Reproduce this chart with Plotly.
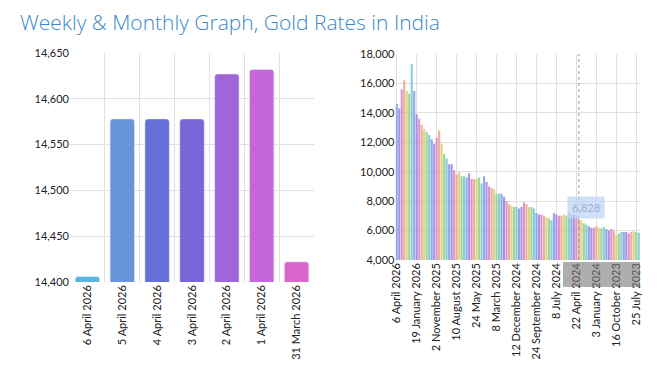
import plotly.graph_objects as go

# ---- Daily chart (left) ----
daily_dates = ["6 April 2026", "5 April 2026", "4 April 2026", "3 April 2026",
               "2 April 2026", "1 April 2026", "31 March 2026"]
daily_rates = [14406, 14578, 14578, 14578, 14627, 14632, 14422]
daily_colors = ["#5ab4df", "#6894da", "#6470da", "#7866d9", "#a066d9", "#c566d9", "#d966cc"]

# ---- Long history (right), newest first ----
history_rates = [
    14600, 14300, 15600, 16200, 15500, 15300, 17300, 15500, 13900, 13600,
    13200, 12900, 12700, 12500, 12200, 11900, 12300, 12800, 11900, 11200,
    10900, 10500, 10500, 10100, 9800, 10000, 9700, 9700, 9600, 9900,
    9500, 9500, 9500, 9600, 9200, 9700, 9300, 9000, 8900, 8800,
    8500, 8500, 8500, 8300, 8000, 7800, 7700, 7600, 7600, 7500,
    7600, 7900, 7800, 7600, 7600, 7500, 7200, 7100, 7100, 7000,
    6900, 6800, 6700, 7200, 7100, 7000, 7000, 7100, 7000, 7300,
    7100, 7100, 7000, 6828, 6700, 6500, 6400, 6300, 6200, 6200,
    6300, 6200, 6150, 6250, 6100, 6000, 6100, 6000, 5700, 5800,
    5900, 5900, 5900, 5800, 5900, 5950, 5900, 5850,
]
history_ticks = ["6 April 2026", "19 January 2026", "2 November 2025", "10 August 2025",
                 "24 May 2025", "8 March 2025", "12 December 2024", "24 September 2024",
                 "8 July 2024", "22 April 2024", "3 January 2024", "16 October 2023",
                 "25 July 2023"]
history_palette = ["#7fa2e6", "#a585de", "#d98acb", "#e8a98a", "#d8cf7c", "#92d18c", "#7fc6cf"]

idx = list(range(len(history_rates)))
hist_colors = [history_palette[i % len(history_palette)] for i in idx]
tick_step = 8
tick_positions = [i * tick_step for i in range(len(history_ticks))]
hover_index = 73

# page body has an 8px default margin; work in page pixels and convert
OFF = 8
W, H = 652, 365


def px(x):
    return (x - OFF) / W


def py(y):
    return 1 - (y - OFF) / H


FONT = "Lato"
TICKFONT = dict(family=FONT, size=11, color="#222")

fig = go.Figure()
fig.add_trace(go.Bar(x=daily_dates, y=daily_rates, marker=dict(color=daily_colors, cornerradius=3),
                     width=0.7, xaxis="x", yaxis="y", showlegend=False))
fig.add_trace(go.Bar(x=idx, y=history_rates, marker=dict(color=hist_colors, opacity=0.9, line_width=0),
                     width=0.85, xaxis="x2", yaxis="y2", showlegend=False))

grid = "#e0e0e0"
fig.update_layout(
    width=W, height=H,
    margin=dict(l=0, r=0, t=0, b=0),
    paper_bgcolor="white", plot_bgcolor="white",
    font=dict(family=FONT, size=11, color="#333"),
    title=dict(text="Weekly & Monthly Graph, Gold Rates in India", xref="paper", yref="paper",
               x=px(20), y=py(23), xanchor="left", yanchor="middle", pad=dict(t=0, b=0, l=0, r=0),
               font=dict(family="Open Sans", size=21, color="#3a88c8", weight=300)),
    xaxis=dict(domain=[px(70), px(314)], type="category", tickson="boundaries", anchor="y",
               showgrid=True, gridcolor=grid, tickangle=-90, ticks="", showline=False,
               zeroline=False, tickfont=TICKFONT, automargin=False),
    yaxis=dict(domain=[py(282), py(53)], range=[14400, 14650], dtick=50, anchor="x",
               tickformat=",", showgrid=True, gridcolor=grid, zeroline=False,
               tickfont=TICKFONT, automargin=False),
    xaxis2=dict(domain=[px(395.5), px(640)], range=[-0.5, len(history_rates) - 0.5], anchor="y2",
                tickvals=tick_positions, ticktext=history_ticks, tickangle=-90,
                showgrid=True, gridcolor=grid, zeroline=False, ticks="",
                tickfont=TICKFONT, automargin=False),
    yaxis2=dict(domain=[py(260), py(54)], range=[4000, 18000], dtick=2000,
                tickformat=",", showgrid=True, gridcolor=grid, zeroline=False,
                anchor="x2", tickfont=TICKFONT, automargin=False),
    annotations=[
        dict(text="6,828", xref="paper", yref="paper", x=px(586), y=py(207),
             xanchor="center", yanchor="middle", showarrow=False,
             bgcolor="rgba(190,215,245,0.75)", borderpad=4,
             font=dict(size=11, color="#9ab0cc")),
    ],
    shapes=[
        dict(type="line", xref="x2", yref="paper", x0=hover_index, x1=hover_index,
             y0=py(260), y1=py(54), line=dict(color="#999", width=1, dash="dot")),
        dict(type="rect", xref="paper", yref="paper", x0=px(563), x1=px(640),
             y0=py(287), y1=py(262), fillcolor="rgba(120,120,120,0.6)",
             line_width=0, layer="above"),
    ],
)
fig.write_html("out.html")
